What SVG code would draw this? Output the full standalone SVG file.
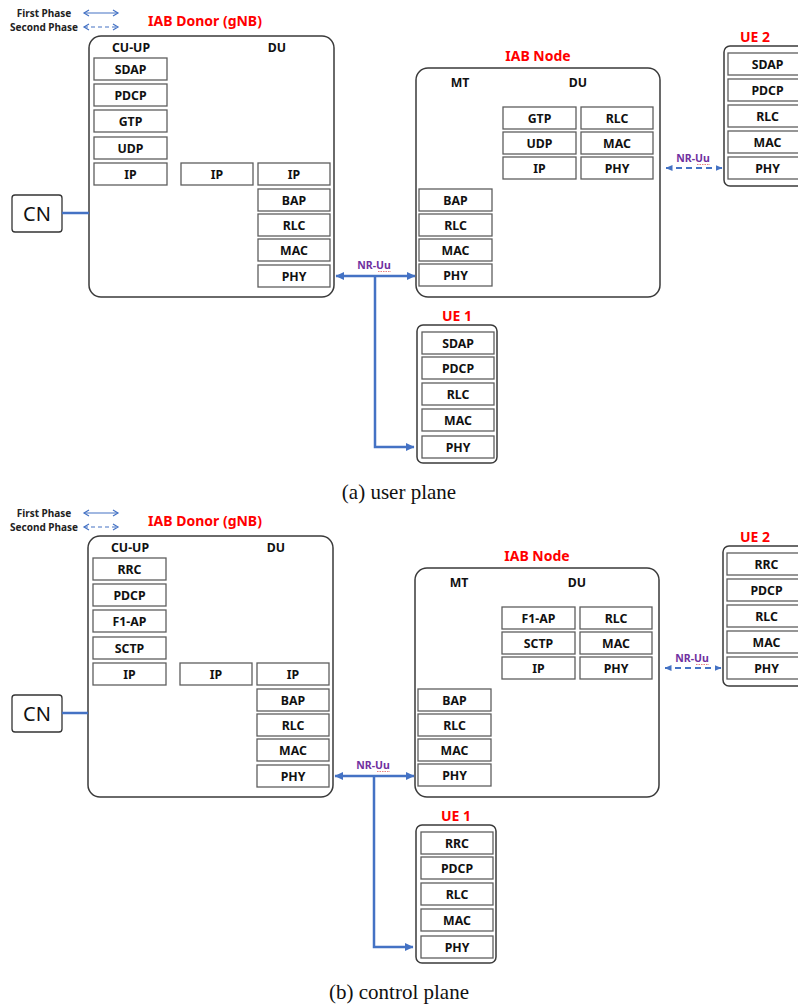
<svg xmlns="http://www.w3.org/2000/svg" width="798" height="1008" viewBox="0 0 798 1008">
<style>
.bg{fill:#fff}
.frame{fill:#fff;stroke:#3a3a3a;stroke-width:1.5}
.L{fill:#fff;stroke:#5e5e5e;stroke-width:1.3}
.t{font-family:"Noto Sans","Open Sans",sans-serif;font-weight:bold;font-size:12.3px;text-anchor:middle;dominant-baseline:central;fill:#111}
.red{font-family:"Noto Sans","Open Sans",sans-serif;font-weight:bold;font-size:14px;text-anchor:middle;dominant-baseline:central;fill:#ff0000}
.leg{font-family:"Noto Sans","Open Sans",sans-serif;font-weight:bold;font-size:10px;text-anchor:middle;dominant-baseline:central;fill:#222}
.nr{font-family:"Noto Sans","Open Sans",sans-serif;font-weight:bold;font-size:10.5px;text-anchor:middle;dominant-baseline:central;fill:#7030a0}
.cn{font-family:"Noto Sans","Open Sans",sans-serif;font-size:20px;text-anchor:middle;dominant-baseline:central;fill:#111}
.cap{font-family:"Liberation Serif",serif;font-size:21px;text-anchor:middle;dominant-baseline:central;fill:#111}
.main{stroke:#4472c4;stroke-width:2.5;fill:none}
.dash{stroke:#4472c4;stroke-width:1.8;fill:none;stroke-dasharray:6 4}
.legsolid{stroke:#4472c4;stroke-width:1.2;fill:none}
.legdash{stroke:#4472c4;stroke-width:1.2;fill:none;stroke-dasharray:4 3}
.squig{stroke:#e06060;stroke-width:0.8;fill:none;stroke-dasharray:1.5 1}
</style>
<defs>
<marker id="ah" markerUnits="userSpaceOnUse" markerWidth="9" markerHeight="9" refX="8" refY="4.5" orient="auto-start-reverse" viewBox="0 0 9 9">
<path d="M0,0.5 L8.5,4.5 L0,8.5 z" fill="#4472c4"/>
</marker>
<marker id="ahs" markerUnits="userSpaceOnUse" markerWidth="7" markerHeight="7" refX="6.5" refY="3.5" orient="auto-start-reverse" viewBox="0 0 7 7">
<path d="M0,0.5 L7,3.5 L0,6.5 z" fill="#4472c4"/>
</marker>
<marker id="ao" markerUnits="userSpaceOnUse" markerWidth="8" markerHeight="8" refX="6" refY="4" orient="auto-start-reverse" viewBox="0 0 8 8">
<path d="M1,1 L6,4 L1,7" fill="none" stroke="#4472c4" stroke-width="1.2"/>
</marker>
</defs>
<rect class="bg" x="0" y="0" width="798" height="1008"/>

<!-- ===== Panel (a) user plane ===== -->
<g id="panel-a">
<g id="a-legend">
<text class="leg" x="44" y="13">First Phase</text>
<text class="leg" x="44" y="27">Second Phase</text>
<line class="legsolid" x1="84" y1="13" x2="118" y2="13" marker-start="url(#ao)" marker-end="url(#ao)"/>
<line class="legdash" x1="84" y1="27" x2="118" y2="27" marker-start="url(#ao)" marker-end="url(#ao)"/>
</g>
<g id="a-cn">
<rect x="12" y="195" width="50" height="37" rx="3" fill="#fff" stroke="#333" stroke-width="1.3"/>
<text class="cn" x="37" y="213.5">CN</text>
</g>
<g id="a-donor">
<text class="red" x="205" y="20">IAB Donor (gNB)</text>
<rect class="frame" x="89" y="36" width="245" height="261" rx="12"/>
<text class="t" x="131" y="47">CU-UP</text>
<text class="t" x="277" y="47">DU</text>
<rect class="L" x="94" y="58" width="73" height="22"/><text class="t" x="130.5" y="69">SDAP</text>
<rect class="L" x="94" y="84" width="73" height="22"/><text class="t" x="130.5" y="95">PDCP</text>
<rect class="L" x="94" y="110" width="73" height="22"/><text class="t" x="130.5" y="121">GTP</text>
<rect class="L" x="94" y="137" width="73" height="22"/><text class="t" x="130.5" y="148">UDP</text>
<rect class="L" x="94" y="163" width="73" height="22"/><text class="t" x="130.5" y="174">IP</text>
<rect class="L" x="181" y="163" width="72" height="22"/><text class="t" x="217" y="174">IP</text>
<rect class="L" x="258" y="163" width="72" height="22"/><text class="t" x="294" y="174">IP</text>
<rect class="L" x="258" y="189" width="72" height="22"/><text class="t" x="294" y="200">BAP</text>
<rect class="L" x="258" y="214" width="72" height="22"/><text class="t" x="294" y="225">RLC</text>
<rect class="L" x="258" y="239" width="72" height="22"/><text class="t" x="294" y="250">MAC</text>
<rect class="L" x="258" y="265" width="72" height="22"/><text class="t" x="294" y="276">PHY</text>
</g>
<g id="a-iabnode">
<text class="red" x="538" y="55">IAB Node</text>
<rect class="frame" x="416" y="68" width="244" height="229" rx="12"/>
<text class="t" x="460" y="82">MT</text>
<text class="t" x="578" y="82">DU</text>
<rect class="L" x="503" y="107" width="73" height="22"/><text class="t" x="539.5" y="118">GTP</text>
<rect class="L" x="503" y="132" width="73" height="22"/><text class="t" x="539.5" y="143">UDP</text>
<rect class="L" x="503" y="157" width="73" height="22"/><text class="t" x="539.5" y="168">IP</text>
<rect class="L" x="581" y="107" width="72" height="22"/><text class="t" x="617" y="118">RLC</text>
<rect class="L" x="581" y="132" width="72" height="22"/><text class="t" x="617" y="143">MAC</text>
<rect class="L" x="581" y="157" width="72" height="22"/><text class="t" x="617" y="168">PHY</text>
<rect class="L" x="419" y="189" width="73" height="22"/><text class="t" x="455.5" y="200">BAP</text>
<rect class="L" x="419" y="214" width="73" height="22"/><text class="t" x="455.5" y="225">RLC</text>
<rect class="L" x="419" y="239" width="73" height="22"/><text class="t" x="455.5" y="250">MAC</text>
<rect class="L" x="419" y="264" width="73" height="22"/><text class="t" x="455.5" y="275">PHY</text>
</g>
<g id="a-ue1">
<text class="red" x="457" y="315">UE 1</text>
<rect class="frame" x="417" y="325" width="80" height="138" rx="6"/>
<rect class="L" x="422" y="332" width="72" height="22"/><text class="t" x="458" y="343">SDAP</text>
<rect class="L" x="422" y="357" width="72" height="22"/><text class="t" x="458" y="368">PDCP</text>
<rect class="L" x="422" y="383" width="72" height="22"/><text class="t" x="458" y="394">RLC</text>
<rect class="L" x="422" y="409" width="72" height="22"/><text class="t" x="458" y="420">MAC</text>
<rect class="L" x="422" y="436" width="72" height="22"/><text class="t" x="458" y="447">PHY</text>
</g>
<g id="a-ue2">
<text class="red" x="755" y="36">UE 2</text>
<rect class="frame" x="724" y="46" width="92" height="140" rx="6"/>
<rect class="L" x="728" y="53" width="79" height="22"/><text class="t" x="767.5" y="64">SDAP</text>
<rect class="L" x="728" y="79" width="79" height="22"/><text class="t" x="767.5" y="90">PDCP</text>
<rect class="L" x="728" y="105" width="79" height="22"/><text class="t" x="767.5" y="116">RLC</text>
<rect class="L" x="728" y="131" width="79" height="22"/><text class="t" x="767.5" y="142">MAC</text>
<rect class="L" x="728" y="157" width="79" height="22"/><text class="t" x="767.5" y="168">PHY</text>
</g>
<g id="a-connectors">
<line class="main" x1="62" y1="213" x2="89" y2="213"/>
<line class="main" x1="336" y1="276" x2="415" y2="276" marker-start="url(#ah)" marker-end="url(#ah)"/>
<path class="main" d="M375,276 V447 H414" marker-end="url(#ah)"/>
<line class="dash" x1="666" y1="168" x2="722" y2="168" marker-start="url(#ahs)" marker-end="url(#ahs)"/>
<text class="nr" x="374" y="265">NR-Uu</text>
<path class="squig" d="M378,271.5 H391"/>
<text class="nr" x="693" y="158">NR-Uu</text>
<path class="squig" d="M697,164.5 H710"/>
</g>
<text class="cap" x="399" y="492">(a) user plane</text>
</g>

<!-- ===== Panel (b) control plane ===== -->
<g id="panel-b" transform="translate(0,500)">
<g id="b-legend">
<text class="leg" x="44" y="13">First Phase</text>
<text class="leg" x="44" y="27">Second Phase</text>
<line class="legsolid" x1="84" y1="13" x2="118" y2="13" marker-start="url(#ao)" marker-end="url(#ao)"/>
<line class="legdash" x1="84" y1="27" x2="118" y2="27" marker-start="url(#ao)" marker-end="url(#ao)"/>
</g>
<g id="b-cn">
<rect x="12" y="195" width="50" height="37" rx="3" fill="#fff" stroke="#333" stroke-width="1.3"/>
<text class="cn" x="37" y="213.5">CN</text>
</g>
<g id="b-donor">
<text class="red" x="205" y="20">IAB Donor (gNB)</text>
<rect class="frame" x="88" y="36" width="245" height="261" rx="12"/>
<text class="t" x="130" y="47">CU-UP</text>
<text class="t" x="276" y="47">DU</text>
<rect class="L" x="93" y="58" width="73" height="22"/><text class="t" x="129.5" y="69">RRC</text>
<rect class="L" x="93" y="84" width="73" height="22"/><text class="t" x="129.5" y="95">PDCP</text>
<rect class="L" x="93" y="110" width="73" height="22"/><text class="t" x="129.5" y="121">F1-AP</text>
<rect class="L" x="93" y="137" width="73" height="22"/><text class="t" x="129.5" y="148">SCTP</text>
<rect class="L" x="93" y="163" width="73" height="22"/><text class="t" x="129.5" y="174">IP</text>
<rect class="L" x="180" y="163" width="72" height="22"/><text class="t" x="216" y="174">IP</text>
<rect class="L" x="257" y="163" width="72" height="22"/><text class="t" x="293" y="174">IP</text>
<rect class="L" x="257" y="189" width="72" height="22"/><text class="t" x="293" y="200">BAP</text>
<rect class="L" x="257" y="214" width="72" height="22"/><text class="t" x="293" y="225">RLC</text>
<rect class="L" x="257" y="239" width="72" height="22"/><text class="t" x="293" y="250">MAC</text>
<rect class="L" x="257" y="265" width="72" height="22"/><text class="t" x="293" y="276">PHY</text>
</g>
<g id="b-iabnode">
<text class="red" x="537" y="55">IAB Node</text>
<rect class="frame" x="415" y="68" width="244" height="229" rx="12"/>
<text class="t" x="459" y="82">MT</text>
<text class="t" x="577" y="82">DU</text>
<rect class="L" x="502" y="107" width="73" height="22"/><text class="t" x="538.5" y="118">F1-AP</text>
<rect class="L" x="502" y="132" width="73" height="22"/><text class="t" x="538.5" y="143">SCTP</text>
<rect class="L" x="502" y="157" width="73" height="22"/><text class="t" x="538.5" y="168">IP</text>
<rect class="L" x="580" y="107" width="72" height="22"/><text class="t" x="616" y="118">RLC</text>
<rect class="L" x="580" y="132" width="72" height="22"/><text class="t" x="616" y="143">MAC</text>
<rect class="L" x="580" y="157" width="72" height="22"/><text class="t" x="616" y="168">PHY</text>
<rect class="L" x="418" y="189" width="73" height="22"/><text class="t" x="454.5" y="200">BAP</text>
<rect class="L" x="418" y="214" width="73" height="22"/><text class="t" x="454.5" y="225">RLC</text>
<rect class="L" x="418" y="239" width="73" height="22"/><text class="t" x="454.5" y="250">MAC</text>
<rect class="L" x="418" y="264" width="73" height="22"/><text class="t" x="454.5" y="275">PHY</text>
</g>
<g id="b-ue1">
<text class="red" x="456" y="315">UE 1</text>
<rect class="frame" x="416" y="325" width="80" height="138" rx="6"/>
<rect class="L" x="421" y="332" width="72" height="22"/><text class="t" x="457" y="343">RRC</text>
<rect class="L" x="421" y="357" width="72" height="22"/><text class="t" x="457" y="368">PDCP</text>
<rect class="L" x="421" y="383" width="72" height="22"/><text class="t" x="457" y="394">RLC</text>
<rect class="L" x="421" y="409" width="72" height="22"/><text class="t" x="457" y="420">MAC</text>
<rect class="L" x="421" y="436" width="72" height="22"/><text class="t" x="457" y="447">PHY</text>
</g>
<g id="b-ue2">
<text class="red" x="755" y="36">UE 2</text>
<rect class="frame" x="723" y="46" width="92" height="140" rx="6"/>
<rect class="L" x="727" y="53" width="79" height="22"/><text class="t" x="766.5" y="64">RRC</text>
<rect class="L" x="727" y="79" width="79" height="22"/><text class="t" x="766.5" y="90">PDCP</text>
<rect class="L" x="727" y="105" width="79" height="22"/><text class="t" x="766.5" y="116">RLC</text>
<rect class="L" x="727" y="131" width="79" height="22"/><text class="t" x="766.5" y="142">MAC</text>
<rect class="L" x="727" y="157" width="79" height="22"/><text class="t" x="766.5" y="168">PHY</text>
</g>
<g id="b-connectors">
<line class="main" x1="62" y1="213" x2="88" y2="213"/>
<line class="main" x1="335" y1="276" x2="414" y2="276" marker-start="url(#ah)" marker-end="url(#ah)"/>
<path class="main" d="M374,276 V447 H413" marker-end="url(#ah)"/>
<line class="dash" x1="665" y1="168" x2="721" y2="168" marker-start="url(#ahs)" marker-end="url(#ahs)"/>
<text class="nr" x="373" y="265">NR-Uu</text>
<path class="squig" d="M377,271.5 H390"/>
<text class="nr" x="692" y="158">NR-Uu</text>
<path class="squig" d="M696,164.5 H709"/>
</g>
<text class="cap" x="399" y="492">(b) control plane</text>
</g>
</svg>
